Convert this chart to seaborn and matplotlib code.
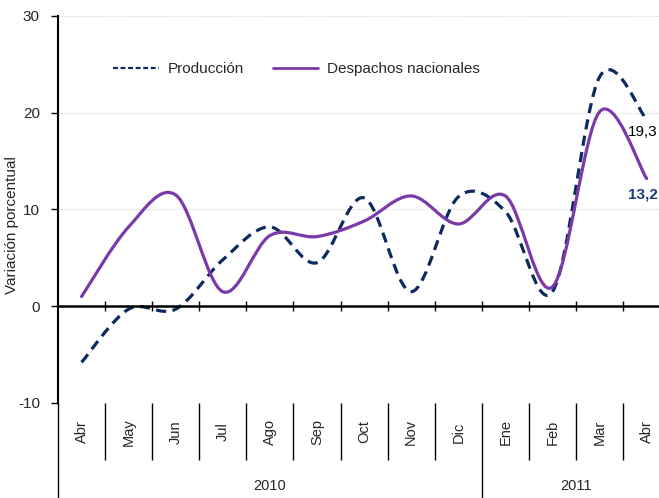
import numpy as np
import matplotlib
matplotlib.use("Agg")
import matplotlib.pyplot as plt
import seaborn as sns
from matplotlib.path import Path
from matplotlib.patches import PathPatch
from matplotlib.lines import Line2D

# ========== DATA ==========
months = ["Abr", "May", "Jun", "Jul", "Ago", "Sep", "Oct", "Nov", "Dic",
          "Ene", "Feb", "Mar", "Abr"]
years = ["2010", "2011"]
year_spans = [(0, 8), (9, 12)]
produccion = [-5.8, -0.3, -0.3, 4.8, 8.2, 4.5, 11.2, 1.5, 11.3, 9.8, 1.5, 23.7, 19.3]
despachos = [1.0, 8.2, 11.5, 1.5, 7.3, 7.2, 8.8, 11.4, 8.5, 11.4, 2.0, 20.1, 13.2]
yticks = [-10, 0, 10, 20, 30]

C_PROD = "#0c2a5e"
C_DESP = "#7a3aa8"

sns.set_theme(style="white")
plt.rcParams["font.family"] = ["Liberation Sans", "DejaVu Sans"]


def smooth_path(ys):
    # excel-like smoothed line: catmull-rom segments as cubic beziers
    xs = np.arange(len(ys), dtype=float)
    pts = np.column_stack([xs, np.asarray(ys, dtype=float)])
    n = len(pts)
    verts = [pts[0]]
    codes = [Path.MOVETO]
    for i in range(n - 1):
        p0 = pts[max(i - 1, 0)]
        p1 = pts[i]
        p2 = pts[i + 1]
        p3 = pts[min(i + 2, n - 1)]
        verts += [p1 + (p2 - p0) / 6.0, p2 - (p3 - p1) / 6.0, p2]
        codes += [Path.CURVE4] * 3
    return Path(verts, codes)


fig = plt.figure(figsize=(6.59, 4.98), dpi=100)
ax = fig.add_axes([0.088, 0.1908, 0.929, 0.7771])

ax.add_patch(PathPatch(smooth_path(produccion), fill=False, edgecolor=C_PROD,
                       lw=2.3, linestyle=(0, (3.2, 2.0)), capstyle="butt"))
ax.add_patch(PathPatch(smooth_path(despachos), fill=False, edgecolor=C_DESP,
                       lw=2.3, capstyle="round"))

ax.set_xlim(-0.5, len(months) - 0.5)
ax.set_ylim(-10, 30)
ax.set_yticks(yticks)
ax.set_yticklabels([str(t) for t in yticks], fontsize=11)
ax.yaxis.grid(True, linestyle=(0, (1, 1.5)), color="#cfcfcf", lw=0.8)
ax.xaxis.grid(False)

for s in ["top", "right"]:
    ax.spines[s].set_visible(False)
ax.spines["left"].set_color("black")
ax.spines["left"].set_linewidth(1.5)
ax.spines["bottom"].set_position(("data", 0))
ax.spines["bottom"].set_color("black")
ax.spines["bottom"].set_linewidth(1.8)
ax.set_xticks(np.arange(0.5, len(months) - 0.5, 1.0))
ax.set_xticklabels([])
ax.tick_params(axis="x", direction="inout", length=7, width=1, color="black", bottom=True)
ax.tick_params(axis="y", direction="out", length=5, width=1, color="black", left=True, pad=8)

ax.set_ylabel("Variación porcentual", fontsize=11)
ax.yaxis.set_label_coords(-0.064, 0.46)

# category area under the plot
trans = ax.get_xaxis_transform()
for i, m in enumerate(months):
    ax.text(i, -0.075, m, transform=trans, rotation=90, ha="center", va="center",
            fontsize=10.5, clip_on=False)
seps = [b for b in np.arange(0.5, len(months) - 0.5, 1.0) if b != 8.5]
ax.vlines(seps, -0.147, 0, transform=trans, colors="black", lw=1.0, clip_on=False)
ax.vlines([-0.5, 8.5], -0.26, 0, transform=trans, colors="black", lw=1.0, clip_on=False)
for yr, (a, b) in zip(years, year_spans):
    ax.text((a + b) / 2, -0.215, yr, transform=trans, ha="center", va="center",
            fontsize=10.5, clip_on=False)

# end labels
ax.text(len(months) - 1.08, 18.0, "19,3", ha="center", va="center", fontsize=11, color="black")
ax.text(len(months) - 1.08, 11.6, "13,2", ha="center", va="center", fontsize=11,
        fontweight="bold", color="#1f3a7f")

handles = [Line2D([], [], color=C_PROD, lw=1.6, linestyle=(0, (2.2, 1.2))),
           Line2D([], [], color=C_DESP, lw=2.0)]
ax.legend(handles, ["Producción", "Despachos nacionales"], ncol=2, frameon=False,
          loc="center left", bbox_to_anchor=(0.09, 0.863), borderpad=0, borderaxespad=0,
          handlelength=3.0, handletextpad=0.55, columnspacing=1.9, fontsize=11)

fig.savefig("out.png", dpi=100)
